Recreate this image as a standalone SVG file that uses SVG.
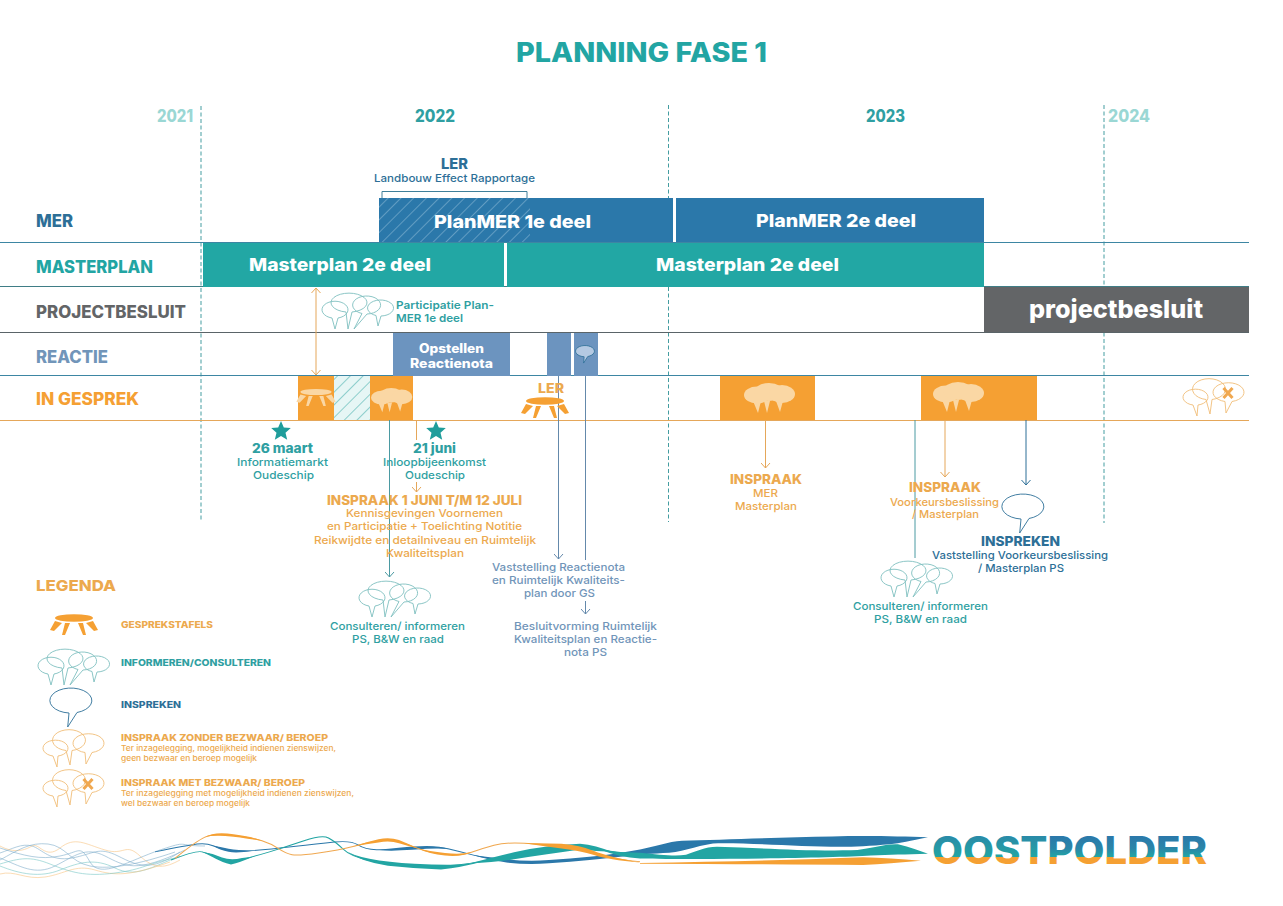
<svg xmlns="http://www.w3.org/2000/svg" width="1283" height="906" viewBox="0 0 1283 906">
<style>
text{font-family:Inter,"Liberation Sans",sans-serif;font-weight:500;font-size:11px}
.b{font-weight:800}.sb{font-weight:600}
.te{fill:#2f9fa2}.bl{fill:#2d6f97}.or{fill:#eca94e}.gr{fill:#636567}.rb{fill:#7195b9}.wh{fill:#fff}
.yr{font-size:17px;font-weight:800}
.lab{font-size:17px;font-weight:800}
.bar{font-size:18px;font-weight:800;fill:#fff}
.head{font-size:13.5px;font-weight:800}
.lg{font-size:9px;font-weight:800}
.sm{font-size:7.5px;font-weight:500}
.hl{fill:none;stroke-width:1}
.dash{fill:none;stroke:#2f9296;stroke-width:.9;stroke-dasharray:4 2.5}
.cT{fill:none;stroke:#7fc0bf;stroke-width:.9}
.cO{fill:none;stroke:#f0bd78;stroke-width:.9}
.cB{fill:none;stroke:#2d6f97;stroke-width:.9}
.ln{fill:none;stroke-width:1}
.thin{fill:none;stroke-width:.6;opacity:.6}
</style>
<defs>
<marker id="aT" viewBox="0 0 10 10" refX="9" refY="5" markerWidth="10" markerHeight="10" orient="auto" markerUnits="userSpaceOnUse"><path d="M4 0.5L9 5L4 9.500" fill="none" stroke="#4b9aa2" stroke-width="1"/></marker>
<marker id="aOr" viewBox="0 0 10 10" refX="9" refY="5" markerWidth="10" markerHeight="10" orient="auto-start-reverse" markerUnits="userSpaceOnUse"><path d="M4 0.5L9 5L4 9.500" fill="none" stroke="#e5a75a" stroke-width="1"/></marker>
<marker id="aR" viewBox="0 0 10 10" refX="9" refY="5" markerWidth="10" markerHeight="10" orient="auto" markerUnits="userSpaceOnUse"><path d="M4 0.5L9 5L4 9.500" fill="none" stroke="#6489ab" stroke-width="1"/></marker>
<marker id="aB" viewBox="0 0 10 10" refX="9" refY="5" markerWidth="10" markerHeight="10" orient="auto" markerUnits="userSpaceOnUse"><path d="M4 0.5L9 5L4 9.500" fill="none" stroke="#2d6f97" stroke-width="1"/></marker>
<pattern id="hB" width="9" height="9" patternUnits="userSpaceOnUse" patternTransform="rotate(45)"><line x1="0" y1="0" x2="0" y2="9" stroke="#7fb0cf" stroke-width="1.300"/></pattern>
<pattern id="hT" width="9" height="9" patternUnits="userSpaceOnUse" patternTransform="rotate(45)"><rect width="9" height="9" fill="#e6f6f5"/><line x1="0" y1="0" x2="0" y2="9" stroke="#4fb3b0" stroke-width="1.200"/></pattern>
<linearGradient id="og1" gradientUnits="userSpaceOnUse" x1="0" y1="836" x2="0" y2="864"><stop offset="0" stop-color="#2a8aa8"/><stop offset=".74" stop-color="#22a5a3"/><stop offset=".76" stop-color="#f5a033"/><stop offset="1" stop-color="#f5a033"/></linearGradient>
<linearGradient id="og2" gradientUnits="userSpaceOnUse" x1="0" y1="836" x2="0" y2="864"><stop offset="0" stop-color="#2b78aa"/><stop offset=".45" stop-color="#2a86a8"/><stop offset=".74" stop-color="#22a5a3"/><stop offset=".76" stop-color="#f5a033"/><stop offset="1" stop-color="#f5a033"/></linearGradient>
<g id="c4"><path d="M11 25A13 8.500 0 1 1 17 25L14 36Z"/><path d="M25 19A18 9.500 0 1 1 31 19L27 36Z"/><path d="M41 20.500A14 9 0 1 1 46 21L33 36Z"/><path d="M55 22.500A13 8 0 1 1 60 23L57 33Z"/></g>
<g id="c3"><path d="M11 25A12.500 8 0 1 1 16 25L15 36Z"/><path d="M24 19.500A16.500 10.500 0 1 1 30 19.500L28 34Z"/><path d="M43 21.500A15.500 9.500 0 1 1 50 21.500L44 33Z"/></g>
<g id="cf"><ellipse cx="13" cy="12" rx="13" ry="8.500"/><ellipse cx="25" cy="9" rx="15" ry="9"/><ellipse cx="38" cy="11" rx="13" ry="9"/><path d="M9 18L14 30L17 18ZM20 18L23 30L26 18ZM32 18L36 29L39 18Z"/></g>
<path id="sp" d="M17 25A21 12.500 0 1 1 25 24.500L15.700 39Z"/>
<g id="tb"><ellipse cx="0" cy="0" rx="19" ry="3.800"/><path d="M-19 3L-24 12L-20 13L-12 5ZM-9 5L-12 17L-9 17L-4 5ZM4 5L9 17L12 17L9 5ZM12 5L20 13L24 12L19 3Z"/></g>
<polygon id="st" points="0,-10 2.800,-3.500 9.800,-3 4.500,1.700 6.200,8.800 0,5 -6.200,8.800 -4.500,1.700 -9.800,-3 -2.800,-3.500"/>
</defs>
<rect width="1283" height="906" fill="#fff"/>

<g id="title"><text class="te b" x="516" y="62" style="font-size:27px;fill:#22a5a3" textLength="251" lengthAdjust="spacingAndGlyphs">PLANNING FASE 1</text></g>

<g id="years">
<text class="yr" x="157" y="122" fill="#9ad7d4" textLength="36" lengthAdjust="spacingAndGlyphs">2021</text>
<text class="yr te" x="415" y="122" textLength="40" lengthAdjust="spacingAndGlyphs">2022</text>
<text class="yr te" x="866" y="122" textLength="39" lengthAdjust="spacingAndGlyphs">2023</text>
<text class="yr" x="1108" y="122" fill="#9ad7d4" textLength="42" lengthAdjust="spacingAndGlyphs">2024</text>
</g>

<g id="grid">
<path class="dash" d="M201 106V522M668.500 105V522M1104 105V523"/>
<path class="hl" stroke="#3d86a3" d="M0 242.500H1249"/>
<path class="hl" stroke="#3f7d86" d="M0 286.500H1249"/>
<path class="hl" stroke="#5a6468" d="M0 332.500H1249"/>
<path class="hl" stroke="#3d86a3" d="M0 375.500H1249"/>
<path class="hl" stroke="#e5a75a" d="M0 420.500H1249"/>
</g>

<g id="row-labels">
<text class="lab bl" x="36" y="227" textLength="37" lengthAdjust="spacingAndGlyphs">MER</text>
<text class="lab" x="36" y="273" fill="#22a5a3" textLength="117" lengthAdjust="spacingAndGlyphs">MASTERPLAN</text>
<text class="lab gr" x="36" y="318" textLength="150" lengthAdjust="spacingAndGlyphs">PROJECTBESLUIT</text>
<text class="lab rb" x="36" y="363" textLength="72" lengthAdjust="spacingAndGlyphs">REACTIE</text>
<text class="lab" x="36" y="405" fill="#f5a033" textLength="103" lengthAdjust="spacingAndGlyphs">IN GESPREK</text>
</g>

<g id="connectors">
<path class="ln" stroke="#3f7f9a" d="M382 198V191.500H527V198"/>
<path class="ln" stroke="#e5a75a" d="M316 288V375" marker-start="url(#aOr)" marker-end="url(#aOr)"/>
<path class="ln" stroke="#4b9aa2" d="M389.500 420V577" marker-end="url(#aT)"/>
<path class="ln" stroke="#e5a75a" d="M416.500 420V440"/>
<path class="ln" stroke="#e5a75a" d="M416.500 482V492" marker-end="url(#aOr)"/>
<path class="ln" stroke="#6489ab" d="M558.500 376V559" marker-end="url(#aR)"/>
<path class="ln" stroke="#6489ab" d="M585.500 376V560"/>
<path class="ln" stroke="#6489ab" d="M585.500 601V614" marker-end="url(#aR)"/>
<path class="ln" stroke="#e5a75a" d="M765.500 420V468" marker-end="url(#aOr)"/>
<path class="ln" stroke="#4b9aa2" d="M915 420V558"/>
<path class="ln" stroke="#e5a75a" d="M945 420V477" marker-end="url(#aOr)"/>
<path class="ln" stroke="#2d6f97" d="M1026 420V485" marker-end="url(#aB)"/>
</g>

<g id="ler">
<text class="b bl" style="font-size:14px" x="441" y="169" textLength="27" lengthAdjust="spacingAndGlyphs">LER</text>
<text class="bl" x="374" y="182" textLength="161" lengthAdjust="spacingAndGlyphs">Landbouw Effect Rapportage</text>
</g>
<g id="mer-bars">
<rect x="379" y="198" width="294" height="44" fill="#2b78aa"/>
<rect x="379" y="198" width="151" height="44" fill="url(#hB)"/>
<rect x="676" y="198" width="308" height="44" fill="#2b78aa"/>
<text class="bar" x="434" y="228" textLength="157" lengthAdjust="spacingAndGlyphs">PlanMER 1e deel</text>
<text class="bar" x="756" y="227" textLength="160" lengthAdjust="spacingAndGlyphs">PlanMER 2e deel</text>
</g>
<g id="masterplan-bars">
<rect x="203" y="243" width="301" height="44" fill="#22a7a4"/>
<rect x="507" y="243" width="477" height="44" fill="#22a7a4"/>
<text class="bar" x="249" y="271" textLength="182" lengthAdjust="spacingAndGlyphs">Masterplan 2e deel</text>
<text class="bar" x="656" y="271" textLength="183" lengthAdjust="spacingAndGlyphs">Masterplan 2e deel</text>
</g>
<g id="projectbesluit">
<rect x="984" y="287" width="265" height="45" fill="#636567"/>
<text class="wh b" style="font-size:25px" x="1029" y="318" textLength="174" lengthAdjust="spacingAndGlyphs">projectbesluit</text>
</g>
<g id="participatie">
<use href="#c4" x="321" y="293" class="cT"/>
<text class="te sb" x="396" y="309" textLength="98" lengthAdjust="spacingAndGlyphs">Participatie Plan-</text>
<text class="te sb" x="396" y="322" textLength="67" lengthAdjust="spacingAndGlyphs">MER 1e deel</text>
</g>
<g id="reactie">
<rect x="393" y="333" width="117" height="43" fill="#6c94bf"/>
<rect x="547" y="333" width="24" height="43" fill="#6c94bf"/>
<rect x="574" y="333" width="24" height="43" fill="#6c94bf"/>
<text class="wh b" style="font-size:12.500px" x="419" y="353" textLength="65" lengthAdjust="spacingAndGlyphs">Opstellen</text>
<text class="wh b" style="font-size:12.500px" x="410" y="368" textLength="83" lengthAdjust="spacingAndGlyphs">Reactienota</text>
<use href="#sp" transform="translate(576.500 345.500) scale(.45)" fill="#b4c9e2" stroke="#2d6f97" stroke-width="1.800"/>
</g>
<g id="gesprek-1">
<rect x="298" y="376" width="36" height="44" fill="#f5a033"/>
<rect x="334" y="376" width="36" height="44" fill="url(#hT)"/>
<rect x="370" y="376" width="43" height="44" fill="#f5a033"/>
<use href="#tb" transform="translate(316 392) scale(.82)" fill="#fad7a4"/>
<use href="#cf" transform="translate(371 388) scale(.81)" fill="#fad7a4"/>
</g>
<g id="gesprek-ler">
<text class="b or" style="font-size:13px" x="538" y="393" textLength="26" lengthAdjust="spacingAndGlyphs">LER</text>
<use href="#tb" transform="translate(545 401)" fill="#f5a033"/>
</g>
<g id="gesprek-2">
<rect x="720" y="376" width="95" height="44" fill="#f5a033"/>
<use href="#cf" x="744" y="383" fill="#fad7a4"/>
</g>
<g id="gesprek-3">
<rect x="921" y="376" width="116" height="44" fill="#f5a033"/>
<use href="#cf" x="933" y="382" fill="#fad7a4"/>
</g>
<g id="gesprek-4">
<use href="#c3" x="1182" y="380" class="cO"/>
<path d="M1223.500 388L1232.500 398M1232.500 388L1223.500 398" stroke="#f0a850" stroke-width="3" fill="none"/>
</g>

<g id="event-26maart">
<use href="#st" x="281" y="431" fill="#1f9d9b"/>
<text class="te b" style="font-size:13px" x="252" y="453" textLength="61" lengthAdjust="spacingAndGlyphs">26 maart</text>
<text class="te" x="237" y="466" textLength="91" lengthAdjust="spacingAndGlyphs">Informatiemarkt</text>
<text class="te" x="253" y="479" textLength="61" lengthAdjust="spacingAndGlyphs">Oudeschip</text>
</g>
<g id="event-21juni">
<use href="#st" x="436" y="431" fill="#1f9d9b"/>
<text class="te b" style="font-size:13px" x="413" y="453" textLength="43" lengthAdjust="spacingAndGlyphs">21 juni</text>
<text class="te" x="383" y="466" textLength="103" lengthAdjust="spacingAndGlyphs">Inloopbijeenkomst</text>
<text class="te" x="405" y="479" textLength="60" lengthAdjust="spacingAndGlyphs">Oudeschip</text>
</g>
<g id="inspraak-juni">
<text class="head or" x="327" y="505" textLength="195" lengthAdjust="spacingAndGlyphs">INSPRAAK 1 JUNI T/M 12 JULI</text>
<text class="or" x="346" y="517" textLength="157" lengthAdjust="spacingAndGlyphs">Kennisgevingen Voornemen</text>
<text class="or" x="327" y="530" textLength="195" lengthAdjust="spacingAndGlyphs">en Participatie + Toelichting Notitie</text>
<text class="or" x="314" y="544" textLength="222" lengthAdjust="spacingAndGlyphs">Reikwijdte en detailniveau en Ruimtelijk</text>
<text class="or" x="386" y="557" textLength="78" lengthAdjust="spacingAndGlyphs">Kwaliteitsplan</text>
</g>
<g id="consulteren-1">
<use href="#c4" x="358" y="581" class="cT"/>
<text class="te" x="330" y="630" textLength="135" lengthAdjust="spacingAndGlyphs">Consulteren/ informeren</text>
<text class="te" x="352" y="643" textLength="92" lengthAdjust="spacingAndGlyphs">PS, B&amp;W en raad</text>
</g>
<g id="vaststelling">
<text class="rb" x="492" y="571" textLength="133" lengthAdjust="spacingAndGlyphs">Vaststelling Reactienota</text>
<text class="rb" x="492" y="584" textLength="133" lengthAdjust="spacingAndGlyphs">en Ruimtelijk Kwaliteits-</text>
<text class="rb" x="524" y="597" textLength="71" lengthAdjust="spacingAndGlyphs">plan door GS</text>
</g>
<g id="besluitvorming">
<text class="rb" x="514" y="630" textLength="143" lengthAdjust="spacingAndGlyphs">Besluitvorming Ruimtelijk</text>
<text class="rb" x="514" y="643" textLength="143" lengthAdjust="spacingAndGlyphs">Kwaliteitsplan en Reactie-</text>
<text class="rb" x="564" y="656" textLength="43" lengthAdjust="spacingAndGlyphs">nota PS</text>
</g>
<g id="inspraak-mer">
<text class="head or" x="730" y="484" textLength="72" lengthAdjust="spacingAndGlyphs">INSPRAAK</text>
<text class="or" x="753" y="497" textLength="25" lengthAdjust="spacingAndGlyphs">MER</text>
<text class="or" x="735" y="510" textLength="62" lengthAdjust="spacingAndGlyphs">Masterplan</text>
</g>
<g id="inspraak-voorkeur">
<text class="head or" x="909" y="492" textLength="72" lengthAdjust="spacingAndGlyphs">INSPRAAK</text>
<text class="or" x="890" y="506" textLength="109" lengthAdjust="spacingAndGlyphs">Voorkeursbeslissing</text>
<text class="or" x="912" y="518" textLength="67" lengthAdjust="spacingAndGlyphs">/ Masterplan</text>
</g>
<g id="inspreken">
<use href="#sp" x="1004" y="494" class="cB"/>
<text class="head bl" x="981" y="546" textLength="79" lengthAdjust="spacingAndGlyphs">INSPREKEN</text>
<text class="bl" x="932" y="559" textLength="176" lengthAdjust="spacingAndGlyphs">Vaststelling Voorkeursbeslissing</text>
<text class="bl" x="978" y="572" textLength="86" lengthAdjust="spacingAndGlyphs">/ Masterplan PS</text>
</g>
<g id="consulteren-2">
<use href="#c4" x="880" y="561" class="cT"/>
<text class="te" x="853" y="610" textLength="135" lengthAdjust="spacingAndGlyphs">Consulteren/ informeren</text>
<text class="te" x="874" y="623" textLength="93" lengthAdjust="spacingAndGlyphs">PS, B&amp;W en raad</text>
</g>

<g id="legenda">
<text class="b or" style="font-size:15px" x="36" y="591" textLength="80" lengthAdjust="spacingAndGlyphs">LEGENDA</text>
<use href="#tb" transform="translate(74 618)" fill="#f5a033"/>
<text class="lg or" x="121" y="628" textLength="92" lengthAdjust="spacingAndGlyphs">GESPREKSTAFELS</text>
<use href="#c4" x="37" y="649" class="cT"/>
<text class="lg te" x="121" y="666" textLength="150" lengthAdjust="spacingAndGlyphs">INFORMEREN/CONSULTEREN</text>
<use href="#sp" x="52" y="688" class="cB"/>
<text class="lg bl" x="121" y="708" textLength="60" lengthAdjust="spacingAndGlyphs">INSPREKEN</text>
<use href="#c3" x="42" y="731" class="cO"/>
<text class="lg or" x="121" y="741" textLength="207" lengthAdjust="spacingAndGlyphs">INSPRAAK ZONDER BEZWAAR/ BEROEP</text>
<text class="sm or" x="121" y="751" textLength="215" lengthAdjust="spacingAndGlyphs">Ter inzagelegging, mogelijkheid indienen zienswijzen,</text>
<text class="sm or" x="121" y="761" textLength="136" lengthAdjust="spacingAndGlyphs">geen bezwaar en beroep mogelijk</text>
<use href="#c3" x="42" y="771" class="cO"/>
<path d="M83.500 779L92.500 789M92.500 779L83.500 789" stroke="#f0a850" stroke-width="3" fill="none"/>
<text class="lg or" x="121" y="786" textLength="184" lengthAdjust="spacingAndGlyphs">INSPRAAK MET BEZWAAR/ BEROEP</text>
<text class="sm or" x="121" y="796" textLength="233" lengthAdjust="spacingAndGlyphs">Ter inzagelegging met mogelijkheid indienen zienswijzen,</text>
<text class="sm or" x="121" y="806" textLength="129" lengthAdjust="spacingAndGlyphs">wel bezwaar en beroep mogelijk</text>
</g>

<g id="logo">
<g class="thin">
<path stroke="#2b78aa" d="M0 853C12 849 22 843 32 846S50 862 72 858S98 846 118 856S150 872 180 852"/>
<path stroke="#2b78aa" d="M0 858C20 866 35 876 55 866S85 846 105 856S135 874 185 850"/>
<path stroke="#22a5a3" d="M0 866C20 874 40 878 60 870S95 858 115 868S150 868 180 856"/>
<path stroke="#f5a033" d="M0 846C15 854 25 850 32 846S45 860 60 848S85 844 105 850S125 842 140 856S165 868 180 860"/>
<path stroke="#f5a033" d="M0 874C15 870 25 880 45 877S75 864 95 870S130 876 170 862"/>
<path stroke="#2b78aa" d="M0 848C25 856 40 860 60 856S80 844 90 862S130 860 160 850S175 846 205 846"/>
<path stroke="#22a5a3" d="M0 864C20 858 30 856 50 864S85 877 115 873S145 864 175 858"/>
<path stroke="#2b78aa" d="M0 860C18 850 30 842 48 844S70 862 90 866S140 864 175 852"/>
</g>
<g transform="translate(0 820) scale(1 .8167) translate(0 -820)">
<g fill="#2b78aa">
<path fill="none" stroke="#2b78aa" stroke-width="1.200" d="M155 859Q188 851 197 849.500Q206 848 213 851.500Q220 855 228.500 857Q237 859 253 857.500Q269 856 293.500 852.500Q318 849 334.500 847Q351 845 358 850.500Q365 856 376.500 856.500Q388 857 412.500 854.500Q437 852 449 855.500Q461 859 473.500 863Q486 867 506.500 870Q527 873 549 871Q571 869 589.500 867Q608 865 640 859"/>
<path d="M213 851.500Q220 853 228.500 855.200Q237 857 253 857.500Q237 861 228.500 858.800Q220 857 213 851.500Z"/>
<path d="M376.500 856.500Q388 855.500 412.500 852.500Q437 850 449 855.500Q437 854 412.500 856.500Q388 858.500 376.500 856.500Z"/>
<path d="M473 863Q486 865.500 506.500 868Q527 871 549 869Q571 867 589.500 865Q608 863 640 856L640 862Q608 867 589.500 869Q571 871 549 873Q527 875 506.500 872Q486 868.500 473 863Z"/>
</g>
<g fill="#22a5a3">
<path fill="none" stroke="#22a5a3" stroke-width="1.200" d="M171 869Q196 857 202 859Q208 861 219.500 866.500Q231 872 242 868.500Q253 865 269.500 859Q286 853 304 845.500Q322 838 328.500 842Q335 846 343 855.500Q351 865 369.500 869.500Q388 874 414.500 876Q441 878 461.500 874.500Q482 871 498 867Q514 863 530.500 860Q547 857 563.500 854.500Q580 852 596 855.500Q612 859 640 864"/>
<path d="M202 859Q213 861 222 866Q231 870 242 866.500L253 865Q240 872 231 874.500Q222 872 212 865Z"/>
<path d="M343 855.500Q351 863 369.500 867.500Q388 872 414.500 873.500Q441 875.500 461.500 874.500L482 871Q461 878 441 880.500Q414 879.500 388 876Q360 871 343 855.500Z"/>
<path d="M470 873Q498 864 514 859.500Q530 855 547 852.500Q565 850 580 849Q596 851 612 859Q596 858 580 856Q563 859 547 862Q530 865 514 868Q495 872 470 873Z"/>
<path d="M600 856Q620 860 640 860L640 867Q620 866 600 856Z"/>
</g>
<g fill="#f5a033">
<path fill="none" stroke="#f0a850" stroke-width="1.200" d="M175 867Q196 846 205 841Q214 836 233.500 839Q253 842 262 845.500Q271 849 278.500 855Q286 861 292 862.500Q298 864 318.500 860.500Q339 857 353 852.500Q367 848 378.500 845.500Q390 843 399 846.500Q408 850 418.500 855Q429 860 445 862Q461 864 471.500 859.500Q482 855 494 851Q506 847 524.500 848.500Q543 850 561.500 852Q580 854 594 860.500Q608 867 640 871"/>
<path d="M205 841Q214 834 233.500 837.500Q253 840.500 262 845.500Q253 843.500 233.500 840.500Q214 838 205 841Z"/>
<path d="M353 852.500Q367 846.500 378.500 843.500Q390 841 399 844.500Q408 849 418.500 855Q408 852 399 848.500Q390 845 378.500 847.500Q367 849.500 353 852.500Z"/>
<path d="M418 855Q429 858.500 445 860.500Q461 862.500 471.500 859.500Q461 865.500 445 863.500Q429 861.500 418 855Z"/>
<path d="M524 848.500Q543 848 561.500 849Q580 850.500 594 858Q608 865 640 872Q608 869 594 863Q580 857.500 561.500 855Q543 852 524 848.500Z"/>
</g>
</g>
<g transform="translate(0 820) scale(1 .8667) translate(0 -820)">
<path fill="#2b78aa" d="M640 854C655 851 668 845 682 844C720 843 780 840 832 839C870 838 900 839 928 840C910 844 900 847 890 848C870 850 855 851 840 851C800 851 750 846 713 847C695 850 680 858 663 858C655 859 648 859 640 859.200Z"/>
<path fill="#22a5a3" d="M640 857.700C660 860 675 862 686 860C695 857 705 851 717 851C760 852 800 856 851 855C870 854 885 847 898 848C910 851 920 856 928 859C905 860 890 860 871 861C830 864 700 866 640 864.300Z"/>
<path fill="#f5a033" d="M640 869.500Q780 867 863 863Q890 864 921 867Q890 870 863 872Q780 871 640 870.500Z"/>
</g>
<text x="932" y="864" style="font-size:38.500px;font-weight:800" textLength="275" lengthAdjust="spacingAndGlyphs"><tspan fill="url(#og1)">OOST</tspan><tspan fill="url(#og2)">POLDER</tspan></text>
</g>
</svg>
